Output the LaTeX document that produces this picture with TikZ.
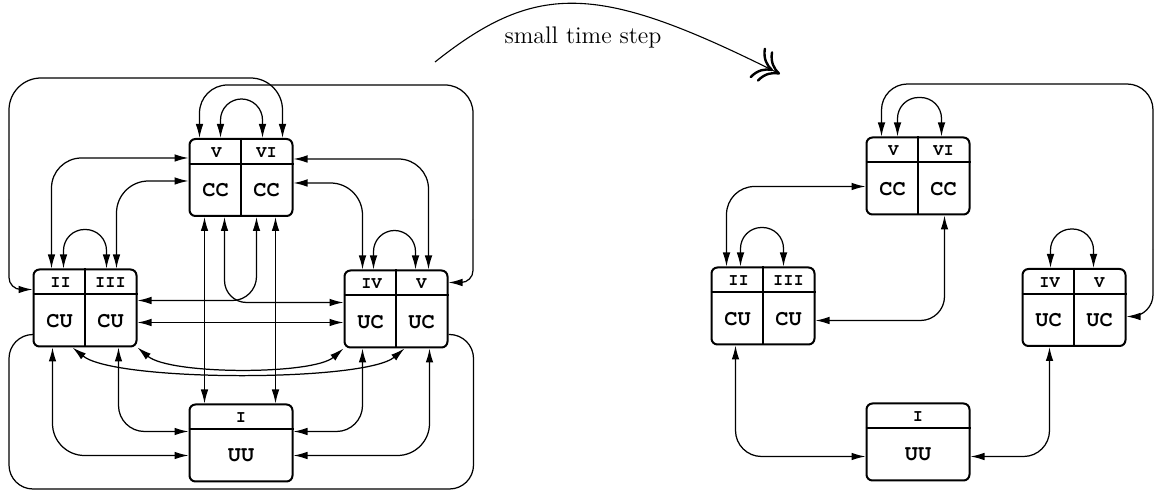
\documentclass[tikz,border=0pt]{standalone}
\usepackage[T1,TU]{fontenc}
\usepackage{fontspec}
\usetikzlibrary{arrows.meta,calc}
\newcommand\crfont{\fontencoding{T1}\fontfamily{pcr}\fontseries{b}\fontshape{n}\selectfont}
\newcommand\quadbx[7]{%
  \node[qb] (#1) at (#2,#3) {};
  \draw[qbl] ($(#1.north west)+(0,26)$) -- ($(#1.north east)+(0,26)$);
  \draw[qbl] (#1.north) -- (#1.south);
  \node[hd] (#1-h1) at ($(#1.north west)+(28,14.5)$) {#4};
  \node[hd] (#1-h2) at ($(#1.north west)+(78,14.5)$) {#5};
  \node[bd] (#1-b1) at ($(#1.north west)+(27,52.5)$) {#6};
  \node[bd] (#1-b2) at ($(#1.north west)+(78,52.5)$) {#7};
}
\newcommand\singlebx[5]{%
  \node[qb] (#1) at (#2,#3) {};
  \draw[qbl] ($(#1.north west)+(0,26)$) -- ($(#1.north east)+(0,26)$);
  \node[hd] (#1-h) at ($(#1.north)+(0,14.5)$) {#4};
  \node[bd] (#1-b) at ($(#1.north)+(0,52.5)$) {#5};
}
\begin{document}
\begin{tikzpicture}[x=0.5pt,y=-0.5pt,
  qb/.style={draw,line width=1pt,rounded corners=3pt,minimum width=51.5pt,minimum height=38.5pt,inner sep=0pt},
  qbl/.style={line width=1pt},
  hd/.style={inner sep=0pt,font=\crfont\fontsize{8.5}{9}\selectfont},
  bd/.style={inner sep=0pt,font=\crfont\fontsize{11}{12}\selectfont},
  conn/.style={line width=0.62pt},
  >={Latex[length=7pt,width=3.8pt]},
  bigarrow/.style={line width=0.55pt,-{To[length=9pt,width=17pt,line width=1.2pt,sep=-5pt]To[length=9pt,width=17pt,line width=1.2pt]}}
]
\useasboundingbox (0,0) rectangle (1155,490);

% ---------- left diagram ----------
\quadbx{CCL}{241}{177.5}{V}{VI}{CC}{CC}
\quadbx{CUL}{85}{308}{II}{III}{CU}{CU}
\quadbx{UCL}{396}{309}{IV}{V}{UC}{UC}
\singlebx{UUL}{241}{443}{I}{UU}

% big top loops
\draw[conn,<-,rounded corners=6pt] ($(CUL.north west)+(0,21)$) -| (9,200);
\draw[conn,->,rounded corners=16pt] (9,200) |- ($(CCL.north west)+(94,-60)$) -- ($(CCL.north west)+(94,0)$);
\draw[conn,<-,rounded corners=14pt] ($(CCL.north west)+(11,0)$) |- (473,85) -- (473,220);
\draw[conn,->,rounded corners=6pt] (473,220) |- ($(UCL.north east)+(0,13)$);
% small loops
\draw[conn,<->,rounded corners=10.5pt] ($(CCL.north west)+(32,0)$) -- ++(0,-39) -| ($(CCL.north west)+(74,0)$);
\draw[conn,<->,rounded corners=10.5pt] ($(CUL.north west)+(31,0)$) -- ++(0,-39) -| ($(CUL.north west)+(74,0)$);
\draw[conn,<->,rounded corners=10.5pt] ($(UCL.north west)+(30,0)$) -- ++(0,-39) -| ($(UCL.north west)+(72,0)$);
% CC sides
\draw[conn,<->,rounded corners=15pt] ($(CCL.north west)+(0,20)$) -| ($(CUL.north west)+(19,0)$);
\draw[conn,<->,rounded corners=16pt] ($(CCL.north west)+(0,43)$) -| ($(CUL.north west)+(84,0)$);
\draw[conn,<->,rounded corners=15pt] ($(CCL.north east)+(0,21)$) -| ($(UCL.north west)+(85,0)$);
\draw[conn,<->,rounded corners=16pt] ($(CCL.north east)+(0,45)$) -| ($(UCL.north west)+(19,0)$);
% CC bottom
\draw[conn,<->] ($(CCL.south west)+(16,0)$) -- ($(UUL.north west)+(16,0)$);
\draw[conn,<->] ($(CCL.south west)+(87,0)$) -- ($(UUL.north west)+(87,0)$);
\draw[conn,<->,rounded corners=11pt] ($(CCL.south west)+(36,0)$) |- ($(UCL.north west)+(0,33)$);
\draw[conn,<->,rounded corners=12pt] ($(CCL.south west)+(68,0)$) |- ($(CUL.north east)+(0,32)$);
% CU - UC
\draw[conn,<->] ($(CUL.north east)+(0,54)$) -- ($(UCL.north west)+(0,53)$);
\draw[conn,<->] ($(CUL.south west)+(40,0)$) .. controls (115,382) and (365,382) .. ($(UCL.south west)+(61,0)$);
\draw[conn,<->] (CUL.south east) .. controls (170,375) and (313,375) .. (UCL.south west);
% to UU
\draw[conn,<->,rounded corners=16pt] ($(CUL.south west)+(20,0)$) |- ($(UUL.north west)+(0,52)$);
\draw[conn,<->,rounded corners=13pt] ($(CUL.south west)+(86,0)$) |- ($(UUL.north west)+(0,28)$);
\draw[conn,<->,rounded corners=13pt] ($(UCL.south west)+(19,0)$) |- ($(UUL.north east)+(0,28)$);
\draw[conn,<->,rounded corners=16pt] ($(UCL.south west)+(86,0)$) |- ($(UUL.north east)+(0,52)$);
% big bottom loop
\draw[conn,rounded corners=12pt] ($(CUL.north west)+(0,66)$) -| (9,489) -| ($(UCL.north east)+(25,65)$) -- ($(UCL.north east)+(0,65)$);

% ---------- arrow ----------
\coordinate (s0) at (435,62);
\coordinate (s1) at (780,74);
\draw[bigarrow] (s0) .. controls (538,-20) and (600,-16) .. (s1);
\node[anchor=base,inner sep=0pt,font=\fontsize{12}{14}\selectfont] (lbl) at (583,44) {small time step};

% ---------- right diagram ----------
\quadbx{CCR}{918}{176}{V}{VI}{CC}{CC}
\quadbx{CUR}{763}{306}{II}{III}{CU}{CU}
\quadbx{UCR}{1074}{307.5}{IV}{V}{UC}{UC}
\singlebx{UUR}{918}{442}{I}{UU}

\draw[conn,<-,rounded corners=13pt] ($(CCR.north west)+(16,0)$) |- (1153,84) -- (1153,250);
\draw[conn,->,rounded corners=11pt] (1153,250) |- ($(UCR.north east)+(0,48.5)$);
\draw[conn,<->,rounded corners=10.5pt] ($(CCR.north west)+(32,0)$) -- ++(0,-39) -| ($(CCR.north west)+(76,0)$);
\draw[conn,<->,rounded corners=10.5pt] ($(CUR.north west)+(30,0)$) -- ++(0,-39) -| ($(CUR.north west)+(73,0)$);
\draw[conn,<->,rounded corners=10.5pt] ($(UCR.north west)+(29,0)$) -- ++(0,-39) -| ($(UCR.north west)+(72,0)$);
\draw[conn,<->,rounded corners=14pt] ($(CCR.north west)+(0,50)$) -| ($(CUR.north west)+(16,0)$);
\draw[conn,<->,rounded corners=12pt] ($(CCR.south west)+(79,0)$) |- ($(CUR.north east)+(0,54)$);
\draw[conn,<->,rounded corners=13pt] ($(CUR.south west)+(25,0)$) |- ($(UUR.north west)+(0,54)$);
\draw[conn,<->,rounded corners=13pt] ($(UCR.south west)+(28,0)$) |- ($(UUR.north east)+(0,54)$);
\end{tikzpicture}
\end{document}
